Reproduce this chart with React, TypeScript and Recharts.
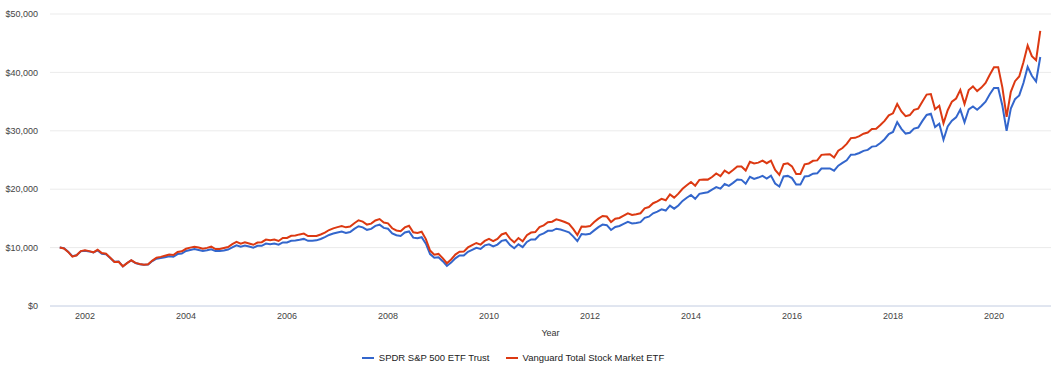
import { LineChart, Line, XAxis, YAxis, CartesianGrid, Legend } from "recharts"

// growth of $10,000, in thousands, one point per month starting Jul 2001
const START_YEAR = 2001.5

const spy = [
  10.0, 9.9, 9.28, 8.53, 8.69, 9.36, 9.44,
  9.35, 9.17, 9.51, 8.93, 8.85, 8.21, 7.56, 7.61, 6.78, 7.37, 7.81, 7.35,
  7.16, 7.05, 7.12, 7.7, 8.11, 8.2, 8.35, 8.51, 8.42, 8.89, 8.97, 9.43,
  9.6, 9.74, 9.58, 9.42, 9.55, 9.72, 9.4, 9.43, 9.52, 9.67, 10.05, 10.39,
  10.16, 10.36, 10.18, 9.99, 10.31, 10.31, 10.69, 10.59, 10.68, 10.49, 10.89, 10.89,
  11.17, 11.21, 11.34, 11.49, 11.16, 11.17, 11.24, 11.48, 11.79, 12.17, 12.4, 12.58,
  12.76, 12.51, 12.66, 13.21, 13.66, 13.46, 13.04, 13.21, 13.73, 13.92, 13.38, 13.23,
  12.44, 12.11, 12.0, 12.58, 12.77, 11.7, 11.59, 11.77, 10.66, 8.9, 8.28, 8.36,
  7.68, 6.86, 7.43, 8.16, 8.64, 8.63, 9.28, 9.62, 9.96, 9.77, 10.38, 10.57,
  10.19, 10.51, 11.15, 11.31, 10.42, 9.88, 10.55, 10.08, 10.97, 11.39, 11.39, 12.15,
  12.43, 12.87, 12.87, 13.24, 13.1, 12.87, 12.62, 11.92, 11.1, 12.31, 12.26, 12.38,
  12.95, 13.51, 13.94, 13.84, 13.01, 13.54, 13.71, 14.05, 14.4, 14.14, 14.23, 14.36,
  15.09, 15.29, 15.87, 16.17, 16.56, 16.34, 17.19, 16.67, 17.21, 18.0, 18.54, 19.02,
  18.36, 19.2, 19.36, 19.49, 19.94, 20.36, 20.09, 20.88, 20.58, 21.08, 21.67, 21.6,
  20.95, 22.13, 21.77, 21.99, 22.28, 21.83, 22.33, 20.97, 20.45, 22.19, 22.28, 21.9,
  20.81, 20.79, 22.18, 22.27, 22.65, 22.72, 23.54, 23.56, 23.56, 23.16, 24.02, 24.5,
  24.94, 25.91, 25.94, 26.2, 26.57, 26.73, 27.29, 27.37, 27.92, 28.56, 29.45, 29.8,
  31.47, 30.34, 29.52, 29.67, 30.38, 30.56, 31.69, 32.71, 32.91, 30.64, 31.22, 28.47,
  30.75, 31.73, 32.3, 33.63, 31.47, 33.68, 34.18, 33.6, 34.24, 34.99, 36.25, 37.34,
  37.34, 34.28, 29.99, 33.8, 35.42, 36.06, 38.19, 40.94, 39.43, 38.44, 42.63,
]

const vti = [
  10.0, 9.85, 9.26, 8.46, 8.68, 9.4, 9.53,
  9.4, 9.19, 9.62, 9.07, 8.94, 8.27, 7.54, 7.58, 6.8, 7.34, 7.83, 7.39,
  7.19, 7.08, 7.15, 7.78, 8.28, 8.41, 8.61, 8.82, 8.73, 9.25, 9.37, 9.8,
  10.0, 10.14, 10.01, 9.8, 9.95, 10.16, 9.75, 9.77, 9.93, 10.09, 10.6, 10.98,
  10.68, 10.9, 10.7, 10.48, 10.86, 10.93, 11.38, 11.27, 11.37, 11.13, 11.64, 11.66,
  12.03, 12.08, 12.26, 12.4, 11.98, 11.97, 11.98, 12.25, 12.55, 13.01, 13.3, 13.5,
  13.71, 13.47, 13.61, 14.16, 14.68, 14.44, 13.94, 14.1, 14.65, 14.89, 14.29, 14.15,
  13.31, 12.93, 12.8, 13.46, 13.75, 12.62, 12.52, 12.72, 11.46, 9.49, 8.77, 8.92,
  8.2, 7.32, 7.96, 8.8, 9.3, 9.31, 10.03, 10.41, 10.79, 10.52, 11.15, 11.5,
  11.1, 11.5, 12.25, 12.51, 11.53, 10.9, 11.64, 11.08, 12.12, 12.58, 12.66, 13.52,
  13.8, 14.33, 14.43, 14.83, 14.65, 14.39, 14.07, 13.21, 12.16, 13.61, 13.58, 13.68,
  14.37, 14.96, 15.42, 15.32, 14.37, 14.94, 15.07, 15.47, 15.87, 15.59, 15.7, 15.88,
  16.73, 16.95, 17.6, 17.91, 18.34, 18.1, 19.12, 18.56, 19.24, 20.07, 20.66, 21.23,
  20.6, 21.6, 21.67, 21.64, 22.08, 22.69, 22.25, 23.17, 22.73, 23.3, 23.9, 23.9,
  23.21, 24.7, 24.4, 24.55, 24.9, 24.45, 24.9, 23.3, 22.45, 24.29, 24.42, 23.91,
  22.6, 22.6, 24.26, 24.41, 24.86, 24.93, 25.88, 25.94, 25.98, 25.43, 26.58, 27.06,
  27.75, 28.75, 28.8, 29.1, 29.5, 29.7, 30.3, 30.35, 31.0, 31.7, 32.65, 33.0,
  34.6, 33.3, 32.5, 32.7, 33.6, 33.8, 35.0, 36.2, 36.3, 33.7, 34.3, 31.3,
  33.52, 35.0, 35.53, 37.0, 34.6, 36.98, 37.6, 36.8, 37.4, 38.2, 39.6, 40.9,
  40.9, 37.4, 32.4, 36.67, 38.5, 39.31, 41.74, 44.62, 42.78, 42.09, 47.1,
]

const yearTicks = [2002, 2004, 2006, 2008, 2010, 2012, 2014, 2016, 2018, 2020]
const valueTicks = [0, 10, 20, 30, 40, 50]

const seriesNames = ["SPDR S&P 500 ETF Trust", "Vanguard Total Stock Market ETF"]
const seriesColors = ["#3366cc", "#dc3912"]

const data = spy.map((v, i) => ({ t: START_YEAR + i / 12, spy: v, vti: vti[i] }))

const font = "Arial, 'Liberation Sans', sans-serif"

function LegendRow() {
  return (
    <div
      style={{
        height: 30,
        boxSizing: "border-box",
        paddingTop: 3,
        paddingRight: 25,
        display: "flex",
        justifyContent: "center",
        alignItems: "center",
        fontFamily: font,
        fontSize: 9.5,
        color: "#222",
      }}
    >
      {seriesNames.map((name, i) => (
        <div key={name} style={{ display: "flex", alignItems: "center", marginLeft: i ? 16 : 0 }}>
          <span style={{ width: 12, height: 2, background: seriesColors[i], marginRight: 5 }} />
          <span>{name}</span>
        </div>
      ))}
    </div>
  )
}

export default function App() {
  return (
    <div style={{ position: "absolute", left: 0, top: 0, width: 1061, height: 371, background: "#fff" }}>
      <LineChart width={1061} height={371} data={data} margin={{ top: 14, right: 10, left: 0, bottom: 0 }}>
        <CartesianGrid vertical={false} stroke="#ebebeb" />
        <XAxis
          dataKey="t"
          type="number"
          domain={[2001.307, 2021.129]}
          ticks={yearTicks}
          allowDataOverflow
          height={35}
          tickLine={false}
          tickSize={0}
          tickMargin={7}
          axisLine={{ stroke: "#ccd6eb" }}
          tick={{ fontSize: 9, fill: "#444", fontFamily: font }}
          label={{ value: "Year", position: "insideBottom", offset: 5, fontSize: 9, fill: "#333", fontFamily: font }}
        />
        <YAxis
          width={50}
          domain={[0, 50]}
          ticks={valueTicks}
          axisLine={false}
          tickLine={false}
          tickSize={0}
          tickMargin={12}
          tick={{ fontSize: 9, fill: "#444", fontFamily: font }}
          tickFormatter={(v) => (v === 0 ? "$0" : `$${v},000`)}
        />
        <Legend verticalAlign="bottom" content={() => <LegendRow />} />
        <Line dataKey="spy" name={seriesNames[0]} stroke={seriesColors[0]} strokeWidth={2} dot={false} isAnimationActive={false} />
        <Line dataKey="vti" name={seriesNames[1]} stroke={seriesColors[1]} strokeWidth={2} dot={false} isAnimationActive={false} />
      </LineChart>
    </div>
  )
}
